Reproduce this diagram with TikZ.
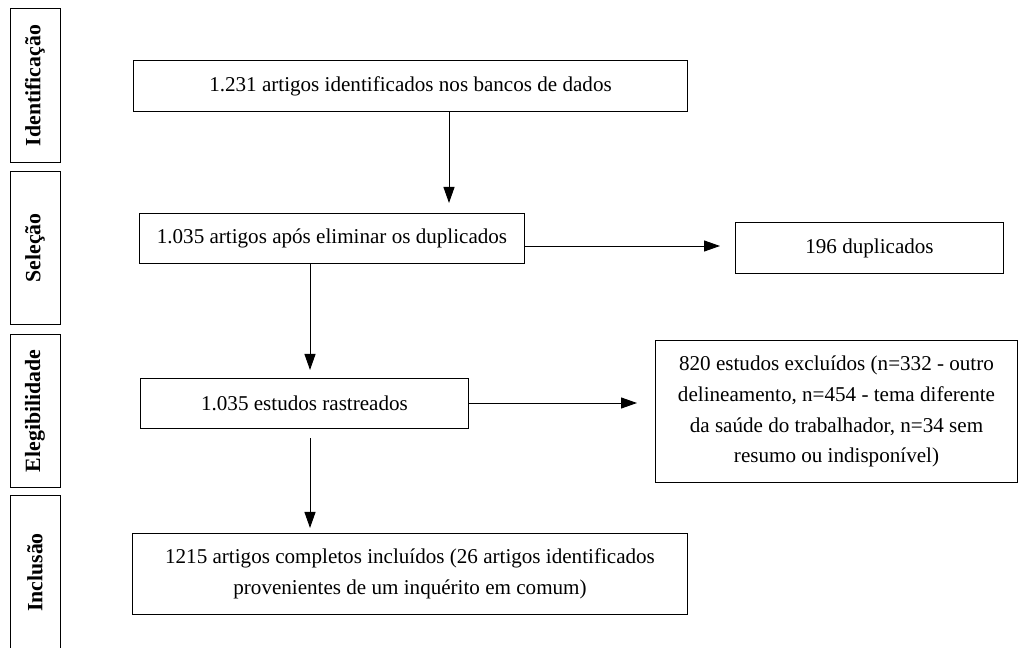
\documentclass[tikz,border=0pt]{standalone}
\usepackage{fontspec}
\setmainfont{Liberation Serif}
\usetikzlibrary{arrows.meta}

\begin{document}
\begin{tikzpicture}[x=0.025cm,y=-0.025cm,
  box/.style={draw,line width=0.7pt,align=center,inner sep=0pt,
    font=\fontsize{15}{22}\selectfont},
  stage/.style={draw,line width=0.7pt,rotate=90,inner sep=0pt,
    minimum width=3.825cm,minimum height=1.25cm,
    font=\fontsize{15.5}{18}\selectfont\bfseries},
  arr/.style={line width=0.7pt,-{Triangle[length=0.4cm,width=0.275cm]}}]
  \useasboundingbox (0,0) rectangle (1018,648);

  % fases
  \node[stage] (ident) at (35,85.5) {Identificação};
  \node[stage] (selec) at (35,248) {Seleção};
  \node[stage] (eleg) at (35,411) {Elegibilidade};
  \node[stage] (incl) at (35,572.5) {Inclusão};

  % caixas
  \node[box,minimum width=13.825cm,minimum height=1.25cm] (bancos) at (410.5,86)
    {1.231 artigos identificados nos bancos de dados};
  \node[box,minimum width=9.6cm,minimum height=1.225cm] (apos) at (332,238.5)
    {1.035 artigos após eliminar os duplicados};
  \node[box,minimum width=6.675cm,minimum height=1.25cm] (dupl) at (869.5,248)
    {196 duplicados};
  \node[box,minimum width=8.175cm,minimum height=1.25cm] (rastr) at (304.5,403)
    {1.035 estudos rastreados};
  \node[box,minimum width=9.025cm,minimum height=3.525cm] (excl) at (836.5,411.5)
    {820 estudos excluídos (n=332 - outro\\
     delineamento, n=454 - tema diferente\\
     da saúde do trabalhador, n=34 sem\\
     resumo ou indisponível)};
  \node[box,minimum width=13.85cm,minimum height=2.025cm] (compl) at (410,573.5)
    {1215 artigos completos incluídos (26 artigos identificados\\
     provenientes de um inquérito em comum)};

  % setas
  \coordinate (t1) at (449,203);
  \draw[arr] (t1 |- bancos.south) -- (t1);
  \coordinate (t2) at (720,246);
  \draw[arr] (apos.east |- t2) -- (t2);
  \coordinate (t3) at (310,370);
  \draw[arr] (t3 |- apos.south) -- (t3);
  \coordinate (t4) at (637,403);
  \draw[arr] (rastr.east) -- (t4);
  \coordinate (s5) at (310,438);
  \coordinate (t5) at (310,528);
  \draw[arr] (s5) -- (t5);
\end{tikzpicture}
\end{document}
